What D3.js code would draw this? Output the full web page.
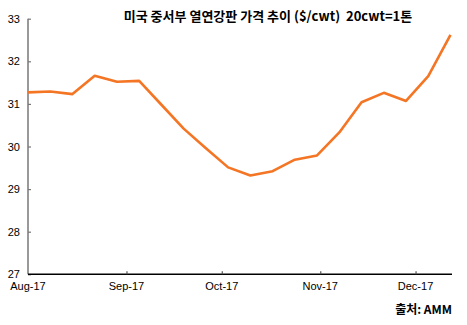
<!DOCTYPE html>
<html><head><meta charset="utf-8">
<script src="https://cdn.jsdelivr.net/npm/d3@7"></script>
<style>html,body{margin:0;padding:0;background:#fff;}svg{display:block;}text{white-space:pre;}</style>
</head><body>
<svg id="c" width="467" height="325"></svg>
<script>
const dates = ["2017-08-01","2017-08-08","2017-08-15","2017-08-22","2017-08-29","2017-09-05","2017-09-12","2017-09-19","2017-09-26","2017-10-03","2017-10-10","2017-10-17","2017-10-24","2017-10-31","2017-11-07","2017-11-14","2017-11-21","2017-11-28","2017-12-05","2017-12-12"];
const prices = [31.27,31.29,31.23,31.66,31.52,31.54,30.98,30.42,29.96,29.51,29.32,29.42,29.69,29.79,30.33,31.04,31.26,31.07,31.65,32.62];
const xTickDates = ["2017-08-01","2017-09-01","2017-10-01","2017-11-01","2017-12-01"];
const xTickLabels = ["Aug-17","Sep-17","Oct-17","Nov-17","Dec-17"];
const yTicks = [27,28,29,30,31,32,33];
const title = "미국 중서부 열연강판 가격 추이 ($/cwt)  20cwt=1톤";
const source = "출처: AMM";

const parse = d3.utcParse("%Y-%m-%d");
const svg = d3.select("#c");
const font = "'Liberation Sans', Arial, sans-serif";
const x = d3.scaleUtc().domain([parse("2017-08-01"), parse("2017-12-12")]).range([28, 450.5]);
const y = d3.scaleLinear().domain([27, 33]).range([274.3, 18.7]);

// y axis
const ya = svg.append("g").attr("transform","translate(28,0)")
  .call(d3.axisRight(y).tickValues(yTicks).tickSize(3).tickFormat(""));
ya.select(".domain").attr("stroke","#777").attr("stroke-width",1.5).attr("d","M0,"+y(33)+"V"+y(27));
ya.selectAll(".tick line").attr("stroke","#777").attr("stroke-width",1.2);
svg.append("g").selectAll("text").data(yTicks).join("text")
  .attr("x",20).attr("y",d=>y(d)+4).attr("text-anchor","end")
  .attr("font-family",font).attr("font-size",11).attr("fill","#000").text(d=>d);

// x axis
const xa = svg.append("g").attr("transform","translate(0,"+y(27)+")")
  .call(d3.axisTop(x).tickValues(xTickDates.map(parse)).tickSize(3).tickFormat(""));
xa.select(".domain").attr("stroke","#000").attr("stroke-width",1.5).attr("d","M28,0H452");
xa.selectAll(".tick line").attr("stroke","#555").attr("stroke-width",1.2);
xa.selectAll(".tick").filter((d,i)=>i===0).select("line").remove();
svg.append("g").selectAll("text").data(xTickDates).join("text")
  .attr("x",d=>x(parse(d))).attr("y",290).attr("text-anchor","middle")
  .attr("font-family",font).attr("font-size",11).attr("fill","#000")
  .text((d,i)=>xTickLabels[i]);

// line
const line = d3.line().x((d,i)=>x(parse(dates[i]))).y(d=>y(d));
svg.append("path").datum(prices).attr("d",line).attr("fill","none")
  .attr("stroke","#F47524").attr("stroke-width",2.6).attr("stroke-linejoin","round");

// title
svg.append("text").attr("x",268).attr("y",21).attr("text-anchor","middle")
  .attr("font-family","'Noto Sans CJK KR', 'Liberation Sans', sans-serif").attr("font-weight","bold")
  .attr("font-size",13).attr("fill","#000").text(title);

svg.append("text").attr("x",452).attr("y",314).attr("text-anchor","end")
  .attr("font-family","'Noto Sans CJK KR', 'Liberation Sans', sans-serif").attr("font-weight","bold")
  .attr("font-size",12).attr("fill","#000").text(source);
</script>
</body></html>
